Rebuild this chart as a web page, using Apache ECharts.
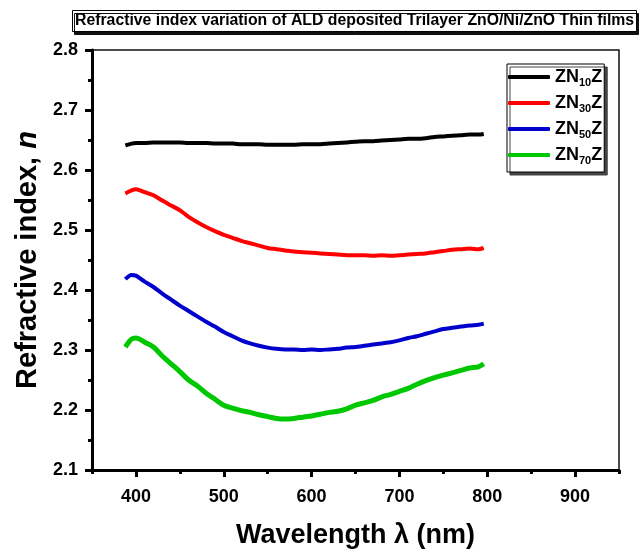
<!DOCTYPE html>
<html><head><meta charset="utf-8">
<script src="https://cdn.jsdelivr.net/npm/echarts@6/dist/echarts.min.js"></script>
<style>html,body{margin:0;padding:0;background:#fff}#c{width:644px;height:554px}</style>
</head><body><div id="c"></div>
<script>
const wavelength = [388,395,400,410,420,430,440,450,460,470,480,490,500,510,520,530,540,550,560,570,580,590,600,610,620,630,640,650,660,670,680,690,700,710,720,730,740,750,760,770,780,790,796];
const zn10 = [2.641,2.644,2.645,2.645,2.646,2.646,2.646,2.646,2.645,2.645,2.645,2.644,2.644,2.644,2.643,2.643,2.643,2.642,2.642,2.642,2.642,2.643,2.643,2.643,2.644,2.645,2.646,2.647,2.648,2.648,2.649,2.650,2.651,2.652,2.652,2.653,2.655,2.656,2.657,2.658,2.659,2.659,2.660];
const zn30 = [2.561,2.566,2.568,2.563,2.558,2.549,2.541,2.533,2.522,2.513,2.505,2.498,2.492,2.487,2.482,2.478,2.474,2.470,2.468,2.466,2.464,2.463,2.462,2.461,2.460,2.459,2.458,2.458,2.458,2.457,2.458,2.457,2.458,2.459,2.460,2.461,2.463,2.465,2.467,2.468,2.469,2.468,2.470];
const zn50 = [2.418,2.425,2.424,2.414,2.405,2.394,2.384,2.374,2.365,2.356,2.347,2.339,2.330,2.323,2.316,2.311,2.307,2.304,2.302,2.301,2.301,2.300,2.301,2.300,2.301,2.302,2.304,2.305,2.307,2.309,2.311,2.313,2.316,2.320,2.323,2.327,2.331,2.335,2.337,2.339,2.341,2.342,2.344];
const zn70 = [2.305,2.318,2.320,2.313,2.305,2.290,2.277,2.264,2.250,2.240,2.228,2.218,2.208,2.203,2.199,2.196,2.192,2.189,2.186,2.185,2.186,2.188,2.190,2.193,2.196,2.198,2.202,2.208,2.212,2.216,2.222,2.226,2.231,2.236,2.243,2.249,2.254,2.258,2.262,2.266,2.270,2.272,2.277];
const seriesNames = ['ZN10Z','ZN30Z','ZN50Z','ZN70Z'];
const seriesColors = ['#000000','#ff0000','#0000cc','#00c800'];
const xMajorTicks = [400,500,600,700,800,900];
const xMinorTicks = [350,450,550,650,750,850,950];
const xRange = {min:350, max:950, step:50};
const yTicks = {min:2.1, max:2.8, interval:0.1};

const FONT = 'Liberation Sans, Arial, sans-serif';
const allData = [zn10, zn30, zn50, zn70];
const series = seriesNames.map((name, i) => ({
  name, type:'line', showSymbol:false, smooth:0.3, xAxisIndex:0,
  data: wavelength.map((w, k) => [w, allData[i][k]]),
  lineStyle:{color:seriesColors[i], width:i===3?5:4},
  itemStyle:{color:seriesColors[i]}
}));

const chart = echarts.init(document.getElementById('c'), null, {renderer:'canvas'});
chart.setOption({
  animation:false,
  backgroundColor:'#fff',
  title:{
    text:'Refractive index variation of ALD deposited Trilayer ZnO/Ni/ZnO Thin films',
    left:72, top:10, padding:[3,3,3,3],
    backgroundColor:'#fff', borderColor:'#000', borderWidth:1,
    shadowColor:'#111', shadowOffsetX:2, shadowOffsetY:3, shadowBlur:0,
    textStyle:{fontFamily:FONT, fontSize:15.8, fontWeight:'bold', color:'#000'}
  },
  legend:{
    orient:'vertical', left:507, top:64,
    data:seriesNames.map(n => ({name:n, icon:'roundRect'})),
    itemWidth:42, itemHeight:4, itemGap:5,
    padding:[3,2,6,1],
    backgroundColor:'#fff', borderColor:'#000', borderWidth:1,
    shadowColor:'#444', shadowOffsetX:3, shadowOffsetY:3, shadowBlur:0,
    formatter: function(name){
      const m = name.match(/^ZN(\d+)Z$/);
      return '{b|ZN}{s|' + m[1] + '}{b|Z}';
    },
    textStyle:{
      fontFamily:FONT, color:'#000', fontWeight:'bold', fontSize:18,
      rich:{
        b:{fontFamily:FONT, fontSize:18, fontWeight:'bold', color:'#000', lineHeight:20, height:20, verticalAlign:'top'},
        s:{fontFamily:FONT, fontSize:11, fontWeight:'bold', color:'#000', lineHeight:11, height:11, padding:[10,0,0,0], verticalAlign:'top'}
      }
    }
  },
  grid:{left:92, right:25, top:50, bottom:81, show:true, borderColor:'#111', borderWidth:1.5},
  xAxis:[{
    type:'value', min:xRange.min, max:xRange.max, interval:xRange.step,
    name:'Wavelength λ (nm)', nameLocation:'middle', nameGap:52,
    nameTextStyle:{fontFamily:FONT, fontSize:27, fontWeight:'bold', color:'#000'},
    axisLine:{show:true, lineStyle:{color:'#000', width:3}},
    axisTick:{show:true, inside:false, length:7, customValues:xMajorTicks, lineStyle:{color:'#000', width:3}},
    splitLine:{show:false},
    axisLabel:{fontFamily:FONT, fontSize:18, fontWeight:'bold', color:'#000', margin:18,
      customValues:xMajorTicks, formatter:v => String(v)}
  },{
    type:'value', min:xRange.min, max:xRange.max, interval:xRange.step, position:'bottom',
    axisLine:{show:false},
    axisTick:{show:true, inside:false, length:4, customValues:xMinorTicks, lineStyle:{color:'#000', width:3}},
    axisLabel:{show:false}, splitLine:{show:false}
  }],
  yAxis:{
    type:'value', min:yTicks.min, max:yTicks.max, interval:yTicks.interval,
    name:'{a|Refractive index, }{i|n}', nameLocation:'middle', nameGap:50,
    nameTextStyle:{fontFamily:FONT, fontSize:29, fontWeight:'bold', color:'#000',
      rich:{a:{fontFamily:FONT, fontSize:29, fontWeight:'bold', color:'#000'},
            i:{fontFamily:FONT, fontSize:29, fontWeight:'bold', fontStyle:'italic', color:'#000'}}},
    axisLine:{show:true, lineStyle:{color:'#000', width:3}},
    axisTick:{show:true, inside:false, length:7, lineStyle:{color:'#000', width:3}},
    minorTick:{show:true, splitNumber:2, length:4, lineStyle:{color:'#000', width:3}},
    splitLine:{show:false},
    axisLabel:{fontFamily:FONT, fontSize:18, fontWeight:'bold', color:'#000', margin:14,
      formatter:v => v.toFixed(1)}
  },
  series
});
</script>
</body></html>
